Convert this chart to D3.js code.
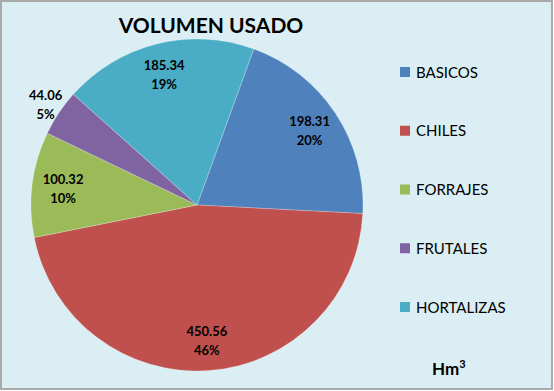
<!DOCTYPE html>
<html>
<head>
<meta charset="utf-8">
<script src="https://cdn.jsdelivr.net/npm/d3@7"></script>
<style>
  html, body { margin: 0; padding: 0; background: #fff; }
  svg { display: block; }
</style>
</head>
<body>
<div id="chart"></div>
<script>
const categories = ['BASICOS', 'CHILES', 'FORRAJES', 'FRUTALES', 'HORTALIZAS']
const values = [198.31, 450.56, 100.32, 44.06, 185.34]
const colors = ['#4f81bd', '#c0504d', '#9bbb59', '#8064a2', '#4bacc6']
const title = 'VOLUMEN USADO'

const width = 554, height = 391
const cx = 197, cy = 205, radius = 166
const total = d3.sum(values)

const svg = d3.select('#chart').append('svg')
  .attr('width', width)
  .attr('height', height)
  .style('font-family', 'Lato, "Open Sans", sans-serif')

// background + border
svg.append('rect')
  .attr('x', 1).attr('y', 1)
  .attr('width', width - 3).attr('height', height - 3)
  .attr('fill', '#dbeef4')
  .attr('stroke', '#a9a9a9')
  .attr('stroke-width', 2)

svg.append('text')
  .attr('x', 211).attr('y', 33)
  .attr('text-anchor', 'middle')
  .style('font-size', '21px')
  .style('font-weight', 'bold')
  .text(title)

const data = categories.map((c, i) => ({name: c, value: values[i], color: colors[i]}))

const pie = d3.pie()
  .sort(null)
  .value(d => d.value)
  .startAngle(20 * Math.PI / 180)
  .endAngle(380 * Math.PI / 180)

const arcs = pie(data)
const arc = d3.arc().innerRadius(0).outerRadius(radius)
const labelArc = d3.arc().innerRadius(135).outerRadius(135)
const outerArc = d3.arc().innerRadius(182).outerRadius(182)

const g = svg.append('g').attr('transform', `translate(${cx}, ${cy})`)

g.selectAll('.slice')
  .data(arcs)
  .enter().append('path')
  .attr('class', 'slice')
  .attr('d', arc)
  .attr('fill', d => d.data.color)
  .attr('stroke', '#ffffff')
  .attr('stroke-opacity', 0.4)
  .attr('stroke-width', 0.6)

// data labels: small slices go outside
const label = g.selectAll('.label')
  .data(arcs)
  .enter().append('g')
  .attr('class', 'label')
  .attr('transform', d => {
    const small = d.data.value / total < 0.07
    const p = small ? outerArc.centroid(d) : labelArc.centroid(d)
    return `translate(${p[0]}, ${p[1]})`
  })

label.append('text')
  .attr('text-anchor', 'middle')
  .attr('y', -4)
  .style('font-size', '13px')
  .style('font-weight', 'bold')
  .text(d => d3.format('.2f')(d.data.value))

label.append('text')
  .attr('text-anchor', 'middle')
  .attr('y', 15)
  .style('font-size', '13px')
  .style('font-weight', 'bold')
  .text(d => Math.round(d.data.value / total * 100) + '%')

// legend
const legendY = d3.scalePoint()
  .domain(categories)
  .range([72, 307])

const legend = svg.selectAll('.legend')
  .data(data)
  .enter().append('g')
  .attr('class', 'legend')
  .attr('transform', d => `translate(400, ${legendY(d.name)})`)

legend.append('rect')
  .attr('x', 0).attr('y', -5)
  .attr('width', 10).attr('height', 10)
  .attr('fill', d => d.color)

legend.append('text')
  .attr('x', 16).attr('y', 5.5)
  .style('font-size', '15px')
  .text(d => d.name)

// unit
const unit = svg.append('text')
  .attr('x', 432).attr('y', 375)
  .style('font-size', '17px')
  .style('font-weight', 'bold')
unit.append('tspan').text('Hm')
unit.append('tspan')
  .attr('dy', -7)
  .style('font-size', '11px')
  .text('3')
</script>
</body>
</html>
